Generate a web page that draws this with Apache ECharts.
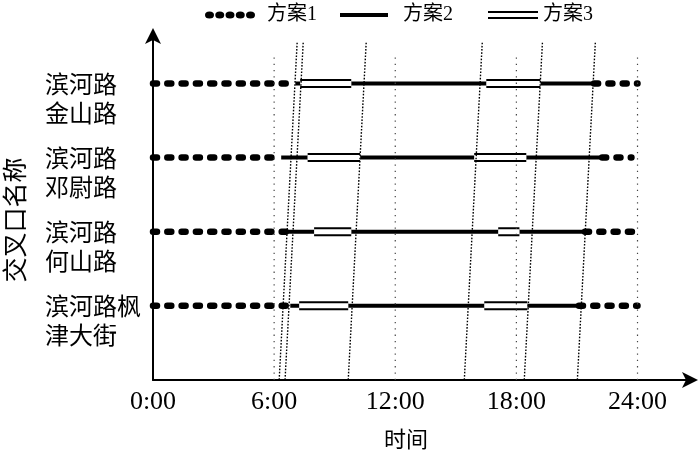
<!DOCTYPE html>
<html><head><meta charset="utf-8">
<script src="https://cdn.jsdelivr.net/npm/echarts@6/dist/echarts.min.js"></script>
<style>html,body{margin:0;padding:0;background:#fff}#c{width:700px;height:451px}</style>
</head><body><div id="c"></div>
<script>
// ---- data ----
const rowNames = ['滨河路\n金山路', '滨河路\n邓尉路', '滨河路\n何山路', '滨河路枫\n津大街'];
const rowPos = [4, 3, 2, 1];
const xTickValues = [0, 6, 12, 18, 24];
const xTickLabels = ['0:00', '6:00', '12:00', '18:00', '24:00'];
const legendNames = ['方案1', '方案2', '方案3'];
// time segments (hours) per row, top to bottom
const plan1 = [
  [[0, 7.05], [21.85, 24]],
  [[0, 6.05], [22.25, 23.7]],
  [[0, 6.65], [21.4, 24]],
  [[0, 6.8], [21.1, 24]]
];
const plan2 = [
  [[7.05, 7.29], [9.82, 16.51], [19.19, 21.85]],
  [[6.35, 7.66], [10.26, 15.91], [18.49, 22.25]],
  [[6.65, 7.98], [9.82, 17.10], [18.15, 21.4]],
  [[6.8, 7.24], [9.67, 16.41], [18.54, 21.1]]
];
const plan3 = [
  [[7.29, 9.82], [16.51, 19.19]],
  [[7.66, 10.26], [15.91, 18.49]],
  [[7.98, 9.82], [17.10, 18.15]],
  [[7.24, 9.67], [16.41, 18.54]]
];
const guideX = [6, 12, 18, 24];
const guideTop = 4.40;
const slantTop = [7.14, 7.44, 10.56, 16.31, 19.29, 21.91];
const slantBottom = [6.25, 6.54, 9.67, 15.42, 18.39, 21.02];
const slantTopY = 4.55;

// ---- build ----
function segData(plan) {
  const out = [];
  plan.forEach((segs, r) => {
    segs.forEach(s => {
      out.push([s[0], rowPos[r]], [s[1], rowPos[r]], '-');
    });
  });
  return out;
}
const guideData = [];
guideX.forEach(x => { guideData.push([x, 0], [x, guideTop], '-'); });
const slantData = [];
slantTop.forEach((t, i) => { slantData.push([t, slantTopY], [slantBottom[i], 0], '-'); });

function ell(x) { return 'M' + x + ',3.5a4.5,3.5 0 1,0 9,0a4.5,3.5 0 1,0 -9,0z'; }
const dotPath = 'path://' + [0, 10.25, 20.5, 30.75, 41].map(ell).join('');
const solidPath = 'path://M0,0h48v4h-48z';
const doublePath = 'path://M0,0h50v2h-50zM0,6h50v2h-50z';

const serif = "'Liberation Serif', 'Noto Sans CJK SC', serif";
const cjk = "'Noto Sans CJK SC', sans-serif";
const legTxt = {color: '#000', fontSize: 20, fontFamily: serif};

const chart = echarts.init(document.getElementById('c'), null, {renderer: 'canvas'});
chart.setOption({
  animation: false,
  backgroundColor: '#fff',
  grid: {left: 153, top: 36, width: 537, height: 344},
  legend: [
    {data: [legendNames[0]], left: 200, top: 0, itemWidth: 50, itemHeight: 7, icon: dotPath,
     itemStyle: {color: '#000', borderWidth: 0}, textStyle: Object.assign({padding: [0, 0, 0, 7]}, legTxt)},
    {data: [legendNames[1]], left: 335, top: 0, itemWidth: 48, itemHeight: 4, icon: solidPath,
     itemStyle: {color: '#000', borderWidth: 0}, textStyle: Object.assign({padding: [0, 0, 0, 10]}, legTxt)},
    {data: [legendNames[2]], left: 483, top: 0, itemWidth: 50, itemHeight: 8, icon: doublePath,
     itemStyle: {color: '#000', borderWidth: 0}, textStyle: Object.assign({padding: [0, 0, 0, 0]}, legTxt)}
  ],
  xAxis: {
    type: 'value', min: 0, max: 26.6, interval: 6,
    axisLine: {show: true, lineStyle: {color: '#000', width: 2}, symbol: ['none', 'arrow'], symbolSize: [12, 16], symbolOffset: [0, 8]},
    axisTick: {show: false}, splitLine: {show: false},
    axisLabel: {color: '#000', fontSize: 26, fontFamily: serif, margin: 9,
      formatter: v => { const i = xTickValues.indexOf(v); return i < 0 ? '' : xTickLabels[i]; }}
  },
  yAxis: {
    type: 'value', min: 0, max: 4.64, interval: 1,
    axisLine: {show: true, lineStyle: {color: '#000', width: 2}, symbol: ['none', 'arrow'], symbolSize: [12, 16], symbolOffset: [0, 8]},
    axisTick: {show: false}, splitLine: {show: false},
    axisLabel: {color: '#000', fontSize: 24, fontFamily: cjk, lineHeight: 29, align: 'left', margin: 108,
      formatter: v => { const i = rowPos.indexOf(v); return i < 0 ? '' : '\n' + rowNames[i]; }}
  },
  graphic: [
    {type: 'text', x: 406, y: 439, style: {text: '时间', fontSize: 22, fontFamily: cjk, fill: '#000', align: 'center', verticalAlign: 'middle'}},
    {type: 'text', x: 14, y: 220, rotation: Math.PI / 2, style: {text: '交叉口名称', fontSize: 25, fontFamily: cjk, fill: '#000', align: 'center', verticalAlign: 'middle'}}
  ],
  series: [
    {name: legendNames[0], type: 'line', data: segData(plan1), symbol: 'none', color: '#000', z: 2,
     lineStyle: {color: '#000', width: 6.5, type: [4, 10.3], cap: 'round'}},
    {name: legendNames[1], type: 'line', data: segData(plan2), symbol: 'none', color: '#000', z: 2,
     lineStyle: {color: '#000', width: 4, cap: 'butt'}},
    {name: legendNames[2], type: 'line', data: segData(plan3), symbol: 'none', color: '#000', z: 3,
     lineStyle: {color: '#000', width: 9, cap: 'butt'}},
    {name: 'inner3', type: 'line', data: segData(plan3), symbol: 'none', color: '#fff', z: 4, silent: true,
     lineStyle: {color: '#fff', width: 5, cap: 'butt'}},
    {name: 'guides', type: 'line', data: guideData, symbol: 'none', color: '#444', z: 5, silent: true,
     lineStyle: {color: '#444', width: 1.2, type: [1.3, 5]}},
    {name: 'slants', type: 'line', data: slantData, symbol: 'none', color: '#000', z: 5, silent: true,
     lineStyle: {color: '#000', width: 1.4, type: [1.6, 1.6]}}
  ]
});
</script>
</body></html>
